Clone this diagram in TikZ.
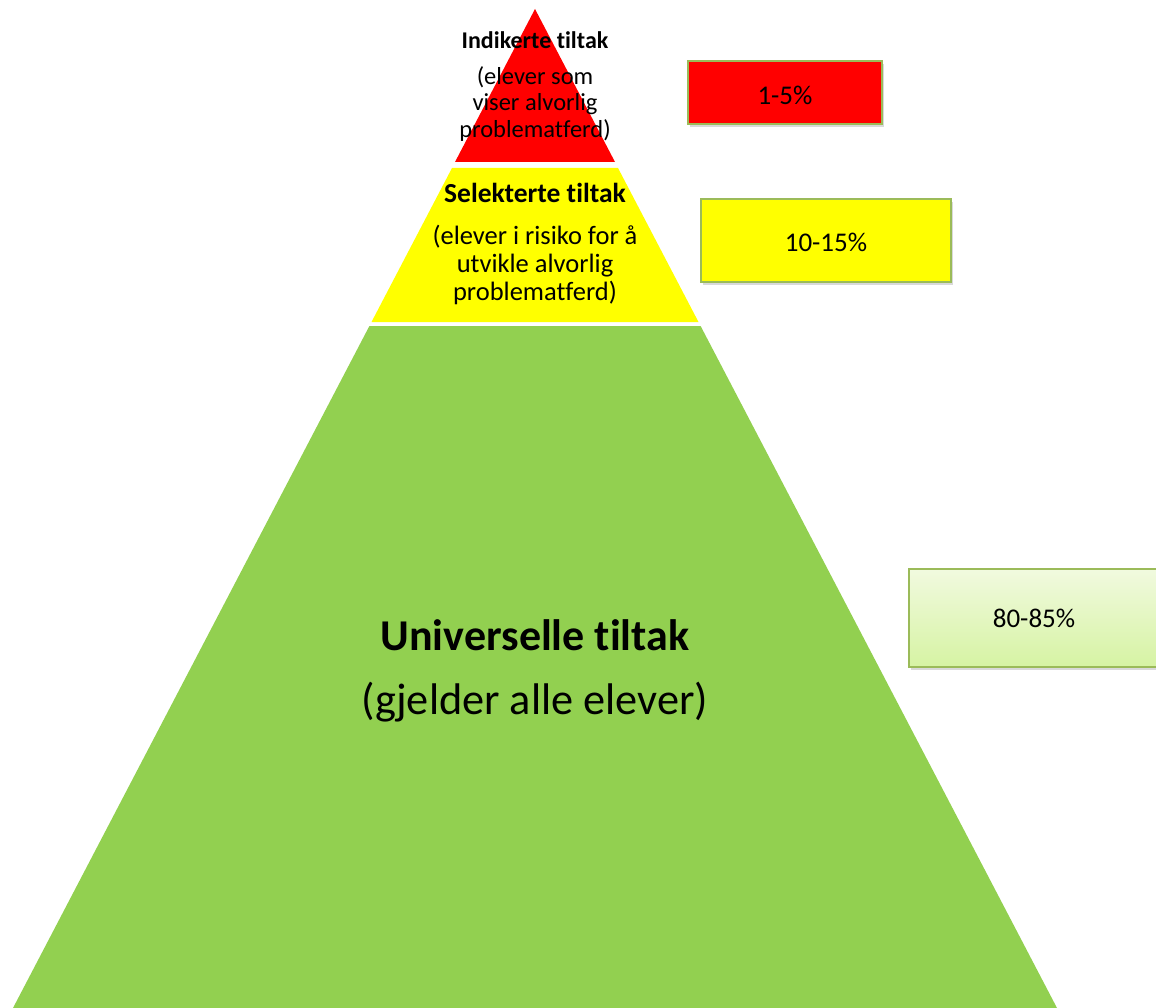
\documentclass[tikz,border=0pt]{standalone}
\usepackage{fontspec}
\setmainfont{Carlito}[Ligatures={NoCommon}]
\usetikzlibrary{shadows}
\definecolor{pyrred}{HTML}{FF0000}
\definecolor{pyryellow}{HTML}{FFFF00}
\definecolor{pyrgreen}{HTML}{92D050}
\definecolor{boxline}{HTML}{9BBB59}
\definecolor{gtop}{HTML}{F1FADF}
\definecolor{gbot}{HTML}{D6F3A3}
\begin{document}
\begin{tikzpicture}[x=1pt,y=-1pt,
  pctbox/.style={draw=boxline, line width=2pt, inner sep=0pt,
    drop shadow={shadow xshift=2pt, shadow yshift=-3pt, opacity=0.3}},
  pcttext/.style={font=\fontsize{27}{30}\selectfont},
  smalltitle/.style={font=\fontsize{24}{26}\selectfont\bfseries, inner sep=0pt},
  smallbody/.style={font=\fontsize{24.5}{26.5}\selectfont, align=center, inner sep=0pt},
  midtitle/.style={font=\fontsize{27.5}{30}\selectfont\bfseries, inner sep=0pt},
  midbody/.style={font=\fontsize{26.5}{28}\selectfont, align=center, inner sep=0pt},
  bigtitle/.style={font=\fontsize{44}{48}\selectfont\bfseries, inner sep=0pt},
  bigbody/.style={font=\fontsize{44.3}{48}\selectfont, inner sep=0pt}]
\useasboundingbox (0,0) rectangle (1156,1008);
\clip (0,0) rectangle (1156,1008);
% pyramid layers
\fill[pyrred] (535,9) -- (615,162) -- (455,162) -- cycle;
\fill[pyryellow] (452,168) -- (618,168) -- (698.5,322) -- (371.5,322) -- cycle;
\fill[pyrgreen] (369.4,326) -- (700.6,326) -- (1057,1008) -- (13,1008) -- cycle;
% texts in pyramid
\node[smalltitle] (indt) at (535,40) {Indikerte tiltak};
\node[smallbody] (indb) at (535,104) {(elever som\\viser alvorlig\\problematferd)};
\node[midtitle] (selt) at (535,193) {Selekterte tiltak};
\node[midbody] (selb) at (535,265) {(elever i risiko for å\\utvikle alvorlig\\problematferd)};
\node[bigtitle] (unit) at (535,635) {Universelle tiltak};
\node[bigbody] (unib) at (535,702) {(gjelder alle elever)};
% percentage boxes
\node[pctbox, fill=pyrred, minimum width=194pt, minimum height=63pt] (p1) at (785,92.5) {};
\node[pcttext] (p1t) at (785,95) {1-5\%};
\node[pctbox, fill=pyryellow, minimum width=250pt, minimum height=83pt] (p2) at (826,240.5) {};
\node[pcttext] (p2t) at (826,242) {10-15\%};
\node[pctbox, top color=gtop, bottom color=gbot, minimum width=251pt, minimum height=98pt] (p3) at (1034.5,618) {};
\node[pcttext] (p3t) at (1034,618) {80-85\%};
\end{tikzpicture}
\end{document}
